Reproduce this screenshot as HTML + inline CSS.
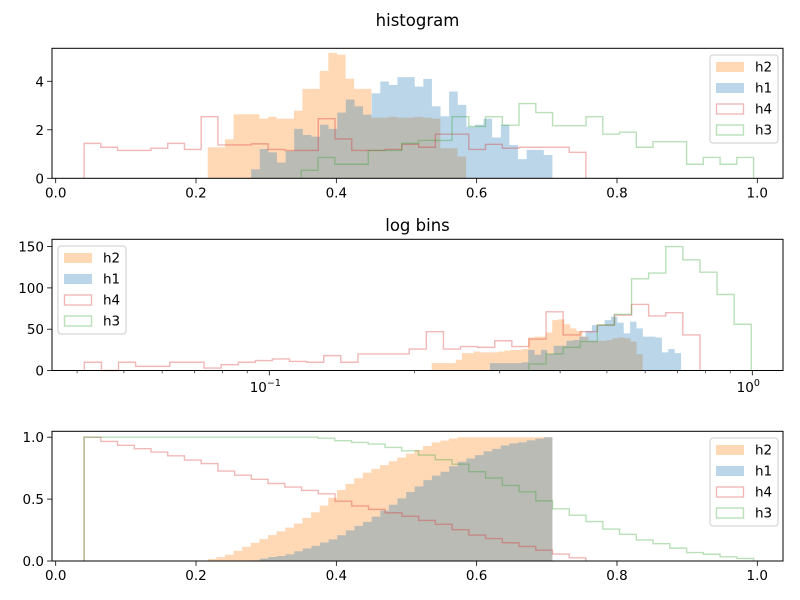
<!DOCTYPE html>
<html><head><meta charset="utf-8"><style>
html,body{margin:0;padding:0;background:#fff;}
svg{display:block;font-family:"DejaVu Sans","Liberation Sans",sans-serif;}
</style></head><body>
<svg id="fig" width="800" height="600" viewBox="0 0 800 600" xmlns="http://www.w3.org/2000/svg">
<rect width="800" height="600" fill="#fff"/>
</svg>
<script>
// ---- data: linear-bin densities (top panel) ----
const h2Range=[0.2167,0.585];
const h2Vals=[1.28,1.28,1.61,2.64,2.64,2.64,2.46,2.54,2.46,2.46,2.79,3.69,3.69,4.43,5.17,5.1,4.11,3.69,3.69,2.5,2.5,2.54,2.5,2.5,2.54,2.5,2.46,1.24,1.24,0.9];
const h1Range=[0.2786,0.708];
const h1Vals=[0.375,1.21,1.07,0.65,1.125,2.04,1.79,1.72,2.21,2.04,2.71,3.25,2.97,2.625,3.5,3.99,3.85,4.17,4.17,3.78,4.1,2.97,2.56,3.58,3.03,2.125,2.21,2.46,1.68,2.21,1.375,0.79,1.17,1.17,0.96];
const h4Range=[0.0405,0.7557];
const h4Vals=[1.44,1.28,1.15,1.15,1.24,1.44,1.19,2.54,1.375,1.375,1.42,1.19,1.15,1.15,2.46,1.625,1.15,1.15,1.19,1.4,1.28,1.82,1.82,1.19,1.4,1.24,1.28,1.28,1.28,1.07];
const h3Range=[0.35,0.9947];
const h3Vals=[0.33,0.86,0.58,0.58,1.15,1.15,1.44,1.56,1.56,2.54,2.14,2.54,2.19,3.08,2.71,2.17,2.17,2.54,1.82,1.9,1.28,1.51,1.51,0.58,0.86,0.58,0.86];
// ---- data: log-bin counts (middle panel) ----
const logRange=[0.0414,0.995];
const logBinCount=39;
const h4LogCounts=[10,0,10,5,5,10,10,3,7,10,12,14,11,10,18,10,20,20,20,26,47,26,29,28,36,29,38,71,43,47,55,67,80,66,70,43];
const h3LogStart=26;
const h3LogCounts=[8,20,28,35,55,68,111,118,150,134,119,92,56];
const h2LogRange=[0.2169,0.593];
const h2LogCounts=[9,9,9,9,13,21,21,23,22,22,22,23,24,25,25,26,40,41,41,46,61,62,56,51,48,41,36,36,36,37,39,40,39,35,20];
const h1LogRange=[0.2864,0.712];
const h1LogCounts=[9,9,9,9,9,10,25,19,25,20,30,30,36,37,41,48,55,55,61,65,58,45,59,51,41,41,40,22,26,21];
// ---- ticks ----
const linTicks=[0,0.2,0.4,0.6,0.8,1.0];
const linTickLabels=["0.0","0.2","0.4","0.6","0.8","1.0"];
const topYTicks=[0,2,4];
const midYTicks=[0,50,100,150];
const botYTicks=[0,0.5,1.0];
const botYTickLabels=["0.0","0.5","1.0"];
const logMinorTicks=[0.04,0.05,0.06,0.07,0.08,0.09,0.2,0.3,0.4,0.5,0.6,0.7,0.8,0.9];
const legendLabels=["h2","h1","h4","h3"];

const NS="http://www.w3.org/2000/svg";
const svg=document.getElementById('fig');
function mk(tag,attrs,parent){const e=document.createElementNS(NS,tag);for(const k in attrs)e.setAttribute(k,attrs[k]);(parent||svg).appendChild(e);return e;}

const AX_L=52, AX_R=783;
const X1=v=>55.7+701.6*v;
const XL=v=>269.3+483*(Math.log10(v)+1);
const Y1=v=>178.3-24.25*v;
const Y2=v=>370.5-0.826*v;
const Y3=v=>561-123.8*v;

const C={h2:'#ff7f0e',h1:'#1f77b4',h4:'#d62728',h3:'#2ca02c'};

function linEdges(r,n){const e=[];for(let i=0;i<=n;i++)e.push(r[0]+(r[1]-r[0])*i/n);return e;}
function logEdges(r,n){const a=Math.log10(r[0]),b=Math.log10(r[1]);const e=[];for(let i=0;i<=n;i++)e.push(Math.pow(10,a+(b-a)*i/n));return e;}

function stepD(edges,vals,X,Y,closeBase){
  let d='M'+X(edges[0]).toFixed(2)+','+Y(0).toFixed(2);
  for(let i=0;i<vals.length;i++){
    d+=' L'+X(edges[i]).toFixed(2)+','+Y(vals[i]).toFixed(2)+' L'+X(edges[i+1]).toFixed(2)+','+Y(vals[i]).toFixed(2);
  }
  d+=' L'+X(edges[vals.length]).toFixed(2)+','+Y(0).toFixed(2);
  if(closeBase)d+=' Z';
  return d;
}
function filled(g,name,edges,vals,X,Y,color){
  const p=mk('path',{d:stepD(edges,vals,X,Y,true),fill:color,'fill-opacity':0.3,stroke:'none'},g);
  
  
}
function stepLine(g,name,edges,vals,X,Y,color){
  const p=mk('path',{d:stepD(edges,vals,X,Y,false),fill:'none',stroke:color,'stroke-opacity':0.33,'stroke-width':1.4},g);
  
  
}

function axesFrame(top,bottom,name){
  const g=mk('g',{});
  
  
  return g;
}
function frame(g,top,bottom){
  mk('rect',{x:AX_L,y:top,width:AX_R-AX_L,height:bottom-top,fill:'none',stroke:'#000','stroke-width':1},g);
}
function xTicks(g,bottom,ticks,labels,X){
  ticks.forEach((t,i)=>{
    const x=X(t);
    mk('line',{x1:x,x2:x,y1:bottom,y2:bottom+4.9,stroke:'#000','stroke-width':0.8},g);
    const tx=mk('text',{x:x,y:bottom+19,'font-size':13.5,'text-anchor':'middle',fill:'#000'},g);
    tx.textContent=labels[i];
    
    
  });
}
function yTicks(g,ticks,labels,Y){
  ticks.forEach((t,i)=>{
    const y=Y(t);
    mk('line',{x1:AX_L-4.9,x2:AX_L,y1:y,y2:y,stroke:'#000','stroke-width':0.8},g);
    const tx=mk('text',{x:AX_L-8,y:y+5,'font-size':13.5,'text-anchor':'end',fill:'#000'},g);
    tx.textContent=labels[i];
    
    
  });
}
function title(text,y,name){
  const t=mk('text',{x:417.5,y:y,'font-size':16.5,'text-anchor':'middle',fill:'#000'});
  t.textContent=text;
  
  
}
function legend(x,y,rows,name){
  const g=mk('g',{});
  
  
  mk('rect',{x:x,y:y,width:68,height:88,rx:3,fill:'#fff','fill-opacity':0.8,stroke:'#ccc','stroke-width':1},g);
  const keys=['h2','h1','h4','h3'];
  keys.forEach((k,i)=>{
    const cy=y+11.5+i*21;
    const ent=mk('g',{},g);
    
    
    if(i<2) mk('rect',{x:x+6,y:cy-4.5,width:28,height:10,fill:C[k],'fill-opacity':0.3},ent);
    else mk('rect',{x:x+6.5,y:cy-4.5,width:27,height:10,fill:'none',stroke:C[k],'stroke-opacity':0.33,'stroke-width':1.4},ent);
    const t=mk('text',{x:x+45,y:cy+5,'font-size':13.5,fill:'#000'},ent);
    t.textContent=legendLabels[i];
  });
}

// ===== Panel 1 =====
const g1=axesFrame(48.3,178.3,'histogram-axes');
filled(g1,'h2-bars',linEdges(h2Range,h2Vals.length),h2Vals,X1,Y1,C.h2);
filled(g1,'h1-bars',linEdges(h1Range,h1Vals.length),h1Vals,X1,Y1,C.h1);
stepLine(g1,'h4-step',linEdges(h4Range,h4Vals.length),h4Vals,X1,Y1,C.h4);
stepLine(g1,'h3-step',linEdges(h3Range,h3Vals.length),h3Vals,X1,Y1,C.h3);
frame(g1,48.3,178.3);
xTicks(g1,178.3,linTicks,linTickLabels,X1);
yTicks(g1,topYTicks,topYTicks.map(String),Y1);
title('histogram',26,'histogram-title');
legend(710,55,0,'top-legend');

// ===== Panel 2 (log bins) =====
const g2=axesFrame(239.3,370.5,'log-bins-axes');
const le=logEdges(logRange,logBinCount);
filled(g2,'h2-log-bars',logEdges(h2LogRange,h2LogCounts.length),h2LogCounts,XL,Y2,C.h2);
filled(g2,'h1-log-bars',logEdges(h1LogRange,h1LogCounts.length),h1LogCounts,XL,Y2,C.h1);
stepLine(g2,'h4-log-step',le.slice(0,h4LogCounts.length+1),h4LogCounts,XL,Y2,C.h4);
stepLine(g2,'h3-log-step',le.slice(h3LogStart,h3LogStart+h3LogCounts.length+1),h3LogCounts,XL,Y2,C.h3);
frame(g2,239.3,370.5);
logMinorTicks.forEach(t=>{const x=XL(t);mk('line',{x1:x,x2:x,y1:370.5,y2:373.3,stroke:'#000','stroke-width':0.6},g2);});
[0.1,1].forEach((t,i)=>{
  const x=XL(t);
  mk('line',{x1:x,x2:x,y1:370.5,y2:375.4,stroke:'#000','stroke-width':0.8},g2);
  const tx=mk('text',{x:x-4,y:392,'font-size':13.5,'text-anchor':'middle',fill:'#000'},g2);
  
  
  const a=mk('tspan',{},tx);a.textContent='10';
  const b=mk('tspan',{'font-size':9.5,dy:-6},tx);b.textContent=i===0?'\u22121':'0';
});
yTicks(g2,midYTicks,midYTicks.map(String),Y2);
title('log bins',231,'log-bins-title');
legend(58,246,0,'middle-legend');

// ===== Panel 3 (cumulative) =====
const g3=axesFrame(431.3,561,'cumulative-axes');
function cum(vals){const s=vals.reduce((a,b)=>a+b,0);let c=0;return vals.map(v=>(c+=v)/s);}
function rcum(vals){const s=vals.reduce((a,b)=>a+b,0);let c=s;return vals.map(v=>{const r=c/s;c-=v;return r;});}
// h2 cumulative, extended at 1 to h1's end
{
  const e=linEdges(h2Range,h2Vals.length);const v=cum(h2Vals);
  e.push(h1Range[1]);v.push(1);
  filled(g3,'h2-cumulative-bars',e,v,X1,Y3,C.h2);
}
filled(g3,'h1-cumulative-bars',linEdges(h1Range,h1Vals.length),cum(h1Vals),X1,Y3,C.h1);
stepLine(g3,'h4-cumulative-step',linEdges(h4Range,h4Vals.length),rcum(h4Vals),X1,Y3,C.h4);
{
  const e=[h4Range[0]].concat(linEdges(h3Range,h3Vals.length));const v=[1].concat(rcum(h3Vals));
  stepLine(g3,'h3-cumulative-step',e,v,X1,Y3,C.h3);
}
frame(g3,431.3,561);
xTicks(g3,561,linTicks,linTickLabels,X1);
yTicks(g3,botYTicks,botYTickLabels,Y3);
legend(710,438,0,'bottom-legend');
</script>
</body></html>
